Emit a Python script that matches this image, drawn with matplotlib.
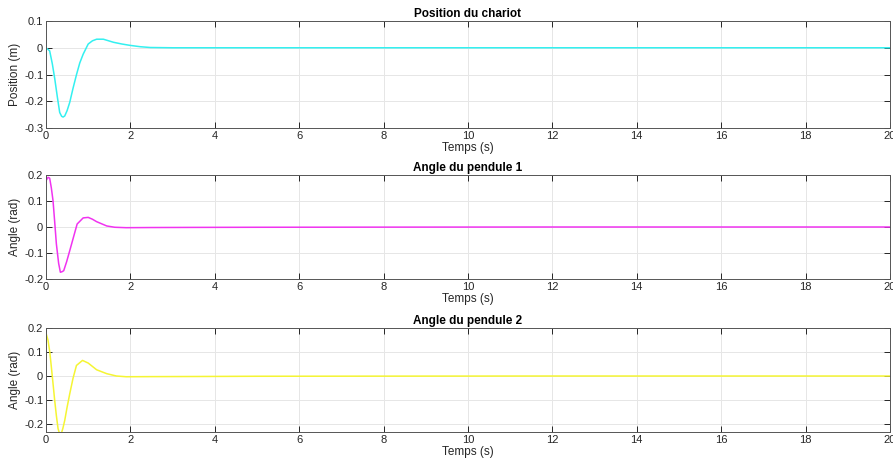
import matplotlib
matplotlib.use("Agg")
import matplotlib.pyplot as plt
import numpy as np

plt.rcParams['font.family'] = ['Liberation Sans', 'DejaVu Sans']

# Position du chariot
t_pos = [0, 0.087, 0.15, 0.206, 0.27, 0.325, 0.37, 0.405, 0.444, 0.5, 0.563, 0.64, 0.722, 0.8, 0.881, 1.0, 1.1, 1.2, 1.36, 1.6, 1.8, 1.99, 2.23, 2.47, 3.0, 4.0, 6.0, 10.0, 15.0, 20.0]
x_pos = [0, -0.0115, -0.06, -0.114, -0.185, -0.242, -0.256, -0.259, -0.255, -0.235, -0.204, -0.152, -0.101, -0.057, -0.024, 0.014, 0.026, 0.032, 0.032, 0.0205, 0.014, 0.009, 0.004, 0.001, 0.0, 0.0, 0.0, 0.0, 0.0, 0.0]

# Angle du pendule 1
t_th1 = [0, 0.048, 0.087, 0.127, 0.167, 0.206, 0.246, 0.3, 0.341, 0.38, 0.42, 0.49, 0.563, 0.65, 0.738, 0.881, 1.0, 1.1, 1.2, 1.44, 1.63, 1.9, 2.5, 3.5, 5.0, 8.0, 12.0, 16.0, 20.0]
th1 = [0.178, 0.191, 0.188, 0.15, 0.101, 0.02, -0.065, -0.14, -0.174, -0.172, -0.168, -0.133, -0.091, -0.04, 0.0115, 0.035, 0.037, 0.03, 0.0205, 0.004, -0.001, -0.0026, -0.002, -0.0015, -0.001, -0.0005, 0.0, 0.0, 0.0]

# Angle du pendule 2
t_th2 = [0, 0.048, 0.09, 0.127, 0.166, 0.206, 0.246, 0.286, 0.33, 0.365, 0.4, 0.444, 0.5, 0.563, 0.64, 0.722, 0.865, 1.0, 1.1, 1.2, 1.44, 1.67, 1.9, 2.5, 3.5, 5.0, 8.0, 12.0, 16.0, 20.0]
th2 = [0.179, 0.149, 0.1, 0.0375, -0.03, -0.101, -0.165, -0.219, -0.245, -0.238, -0.218, -0.185, -0.13, -0.074, -0.01, 0.044, 0.065, 0.054, 0.04, 0.026, 0.0097, 0.0, -0.003, -0.0025, -0.002, -0.001, -0.0005, 0.0, 0.0, 0.0]

titles = ["Position du chariot", "Angle du pendule 1", "Angle du pendule 2"]
ylabels = ["Position (m)", "Angle (rad)", "Angle (rad)"]
xlabel = "Temps (s)"
xticks = [0, 2, 4, 6, 8, 10, 12, 14, 16, 18, 20]
yticks = [[-0.3, -0.2, -0.1, 0, 0.1], [-0.2, -0.1, 0, 0.1, 0.2], [-0.2, -0.1, 0, 0.1, 0.2]]
ylims = [(-0.3, 0.1), (-0.2, 0.2), (-0.233, 0.2)]
colors = ["#33f0f0", "#f033f0", "#f5f533"]
series = [(t_pos, x_pos), (t_th1, th1), (t_th2, th2)]

fig = plt.figure(figsize=(8.93, 4.63), dpi=100)
boxes = [(0.0515, 0.7235, 0.9451, 0.2311), (0.0515, 0.3974, 0.9451, 0.2246), (0.0515, 0.067, 0.9451, 0.2246)]
txtc = "#262626"
for i in range(3):
    ax = fig.add_axes(boxes[i])
    t, y = series[i]
    ax.plot(t, y, color=colors[i], lw=1.1)
    ax.set_xlim(0, 20)
    ax.set_ylim(*ylims[i])
    ax.set_xticks(xticks)
    ax.set_yticks(yticks[i])
    ax.set_yticklabels([("%g" % v) for v in yticks[i]])
    ax.grid(True, color="#e6e6e6", lw=0.7)
    ax.set_axisbelow(True)
    ax.tick_params(direction="in", top=True, right=True, labelsize=8, colors=txtc, length=4, width=0.7, pad=2)
    for s in ax.spines.values():
        s.set_color("#555555")
        s.set_linewidth(0.7)
    ax.set_title(titles[i], fontsize=8.5, fontweight="bold", color="black", pad=3)
    ax.set_xlabel(xlabel, fontsize=8.5, color=txtc, labelpad=1)
    ax.set_ylabel(ylabels[i], fontsize=8.5, color=txtc, labelpad=2)

fig.savefig("out.png", dpi=100)
